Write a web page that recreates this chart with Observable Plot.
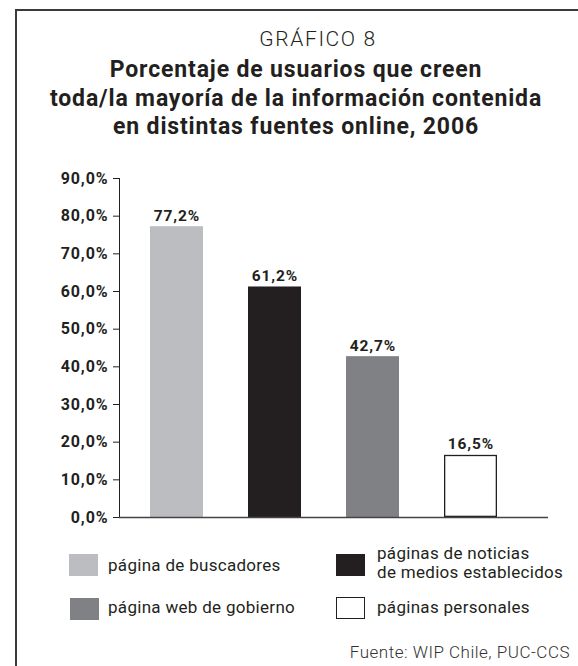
<!DOCTYPE html>
<html>
<head>
<meta charset="utf-8">
<script src="https://cdn.jsdelivr.net/npm/d3@7"></script>
<script src="https://cdn.jsdelivr.net/npm/@observablehq/plot@0.6"></script>
<style>
  body { margin:0; width:578px; height:666px; overflow:hidden; position:relative; background:#fff; font-family: Roboto, "Noto Sans", sans-serif; color:#231f20; }
  #frame { position:absolute; left:15px; top:9px; width:700px; height:800px; border-left:2px solid #3a3a3a; border-top:2px solid #3a3a3a; }
  .t0 { position:absolute; left:40px; width:556px; top:27px; text-align:center; font-size:21px; font-weight:300; line-height:24px; letter-spacing:1.6px; }
  .t1 { position:absolute; left:0px; width:592px; top:56px; text-align:center; font-size:23px; font-weight:bold; line-height:28.5px; letter-spacing:0.85px; }
  #chart { position:absolute; left:0; top:150px; }
  #chart text { letter-spacing:0.9px; }
  .sw { position:absolute; width:29px; height:22px; box-sizing:border-box; }
  .lg { position:absolute; font-size:17px; line-height:19px; white-space:nowrap; letter-spacing:0.3px; }
  .src { position:absolute; right:8px; top:642px; font-size:17px; font-weight:300; color:#333; letter-spacing:0.5px; }
</style>
</head>
<body>
<div id="frame"></div>
<div class="t0">GRÁFICO 8</div>
<div class="t1">Porcentaje de usuarios que creen<br>toda/la mayoría de la información contenida<br>en distintas fuentes online, 2006</div>
<div id="chart"></div>
<div id="legend"></div>
<div class="src">Fuente: WIP Chile, PUC-CCS</div>
<script>
const categories = ["página de buscadores", "páginas de noticias de medios establecidos", "página web de gobierno", "páginas personales"];
const values = [77.2, 61.2, 42.7, 16.5];
const yTicks = [0, 10, 20, 30, 40, 50, 60, 70, 80, 90];
const palette = ["#bcbdc0", "#231f20", "#808184", "#ffffff"];

const fmt = v => v.toFixed(1).replace(".", ",") + "%";
const data = categories.map((c, i) => ({cat: c, value: values[i]}));

const chart = Plot.plot({
  width: 578,
  height: 379,
  marginLeft: 119,
  marginRight: 30,
  marginTop: 28,
  marginBottom: 12,
  style: {fontFamily: "Roboto, 'Noto Sans', sans-serif", fontSize: "16px", fontWeight: "bold", color: "#231f20", background: "transparent"},
  x: {type: "band", domain: categories, range: [127.5, 519.5], paddingInner: 0.46, paddingOuter: 0.23, axis: null},
  y: {domain: [0, 90], ticks: yTicks, tickFormat: fmt, tickSize: 6, tickPadding: 5, line: true, label: null},
  color: {domain: categories, range: palette},
  marks: [
    Plot.barY(data, {x: "cat", y: "value", fill: "cat"}),
    Plot.barY(data.filter(d => d.cat === categories[3]), {x: "cat", y: "value", fill: "#fff", stroke: "#231f20", strokeWidth: 1.3, inset: 0.65}),
    Plot.ruleY([0], {stroke: "#444", strokeWidth: 1.5}),
    Plot.text(data, {x: "cat", y: "value", text: d => fmt(d.value), dy: -11, fontSize: 15.5, fontWeight: "bold", fill: "#231f20"})
  ]
});
document.getElementById("chart").appendChild(chart);

// legend (HTML)
const legendPos = [
  {sw: [69, 554], tx: [108, 556]},
  {sw: [336, 554], tx: [377, 544]},
  {sw: [70, 598], tx: [108, 598]},
  {sw: [336, 597], tx: [377, 598]}
];
const legend = document.getElementById("legend");
categories.forEach((c, i) => {
  const s = document.createElement("div");
  s.className = "sw";
  s.style.left = legendPos[i].sw[0] + "px";
  s.style.top = legendPos[i].sw[1] + "px";
  s.style.background = palette[i];
  if (palette[i] === "#ffffff") s.style.border = "1.3px solid #231f20";
  legend.appendChild(s);
  const t = document.createElement("div");
  t.className = "lg";
  t.style.left = legendPos[i].tx[0] + "px";
  t.style.top = legendPos[i].tx[1] + "px";
  t.innerHTML = c.replace(" de medios", "<br>de medios");
  legend.appendChild(t);
});
</script>
</body>
</html>
